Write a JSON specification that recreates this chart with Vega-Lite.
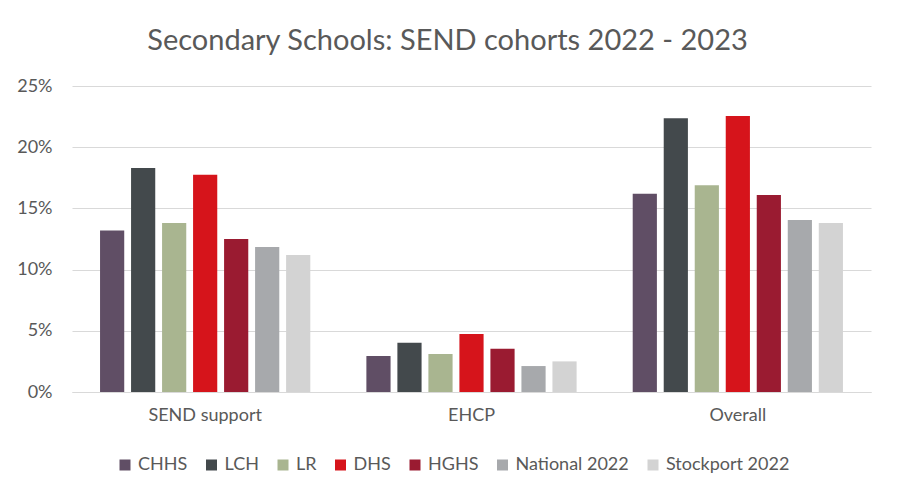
{
  "$schema": "https://vega.github.io/schema/vega-lite/v6.json",
  "autosize": {"type": "none"},
  "width": 799,
  "height": 306,
  "padding": {"left": 72, "top": 86, "right": 28, "bottom": 110},
  "background": "white",
  "title": {
    "text": "Secondary Schools: SEND cohorts 2022 - 2023",
    "font": "Lato",
    "fontSize": 29,
    "fontWeight": "normal",
    "color": "#595959",
    "anchor": "middle",
    "dx": -24,
    "baseline": "alphabetic",
    "offset": -2
  },
  "data": {
    "values": [
      {"measure": "SEND support", "school": "CHHS", "value": 0.132},
      {"measure": "SEND support", "school": "LCH", "value": 0.183},
      {"measure": "SEND support", "school": "LR", "value": 0.138},
      {"measure": "SEND support", "school": "DHS", "value": 0.1775},
      {"measure": "SEND support", "school": "HGHS", "value": 0.125},
      {"measure": "SEND support", "school": "National 2022", "value": 0.1185},
      {"measure": "SEND support", "school": "Stockport 2022", "value": 0.112},
      {"measure": "EHCP", "school": "CHHS", "value": 0.0294},
      {"measure": "EHCP", "school": "LCH", "value": 0.0403},
      {"measure": "EHCP", "school": "LR", "value": 0.031},
      {"measure": "EHCP", "school": "DHS", "value": 0.0474},
      {"measure": "EHCP", "school": "HGHS", "value": 0.0354},
      {"measure": "EHCP", "school": "National 2022", "value": 0.0212},
      {"measure": "EHCP", "school": "Stockport 2022", "value": 0.025},
      {"measure": "Overall", "school": "CHHS", "value": 0.162},
      {"measure": "Overall", "school": "LCH", "value": 0.2236},
      {"measure": "Overall", "school": "LR", "value": 0.169},
      {"measure": "Overall", "school": "DHS", "value": 0.2255},
      {"measure": "Overall", "school": "HGHS", "value": 0.161},
      {"measure": "Overall", "school": "National 2022", "value": 0.1405},
      {"measure": "Overall", "school": "Stockport 2022", "value": 0.138}
    ]
  },
  "mark": {"type": "bar"},
  "encoding": {
    "x": {
      "field": "measure",
      "type": "nominal",
      "sort": ["SEND support", "EHCP", "Overall"],
      "scale": {"paddingInner": 0.185, "paddingOuter": 0.0925},
      "axis": {
        "title": null,
        "labelAngle": 0,
        "ticks": false,
        "domain": true,
        "domainColor": "#D9D9D9",
        "domainWidth": 1,
        "labelPadding": 14,
        "labelFont": "Lato",
        "labelFontSize": 18,
        "labelColor": "#595959"
      }
    },
    "xOffset": {
      "field": "school",
      "type": "nominal",
      "sort": ["CHHS", "LCH", "LR", "DHS", "HGHS", "National 2022", "Stockport 2022"],
      "scale": {"paddingInner": 0.22, "paddingOuter": 0.11}
    },
    "y": {
      "field": "value",
      "type": "quantitative",
      "scale": {"domain": [0, 0.25], "nice": false},
      "axis": {
        "title": null,
        "format": ".0%",
        "values": [0, 0.05, 0.1, 0.15, 0.2, 0.25],
        "ticks": false,
        "domain": false,
        "gridColor": "#D9D9D9",
        "gridWidth": 1,
        "labelPadding": 20,
        "labelFont": "Lato",
        "labelFontSize": 18,
        "labelColor": "#595959"
      }
    },
    "color": {
      "field": "school",
      "type": "nominal",
      "sort": ["CHHS", "LCH", "LR", "DHS", "HGHS", "National 2022", "Stockport 2022"],
      "scale": {
        "domain": ["CHHS", "LCH", "LR", "DHS", "HGHS", "National 2022", "Stockport 2022"],
        "range": ["#604E65", "#43494C", "#A9B590", "#D6141B", "#9A1B31", "#A7A9AC", "#D3D3D3"]
      },
      "legend": {
        "title": null,
        "orient": "none",
        "direction": "horizontal",
        "legendX": 44,
        "legendY": 370,
        "symbolType": "square",
        "symbolSize": 121,
        "symbolStrokeWidth": 0,
        "labelOffset": 4,
        "columnPadding": 14.5,
        "labelFont": "Lato",
        "labelFontSize": 18,
        "labelColor": "#595959"
      }
    }
  },
  "config": {
    "view": {"stroke": null}
  }
}
